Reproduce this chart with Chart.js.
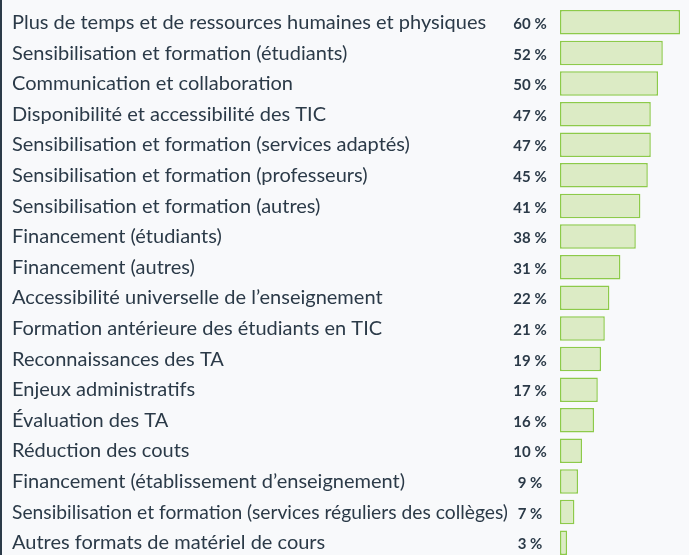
<!DOCTYPE html>
<html>
<head>
<meta charset="utf-8">
<script src="https://cdn.jsdelivr.net/npm/chart.js@4"></script>
<style>
  html, body { margin: 0; padding: 0; background: #f8f9fb; overflow: hidden; }
  #wrap { position: absolute; left: 0; top: 0; width: 689px; height: 560px; }
  #edge { position: absolute; left: 0; top: 0; width: 2px; height: 555px; background: #2b3a48; }
</style>
</head>
<body>
<div id="wrap"><canvas id="myChart" width="689" height="560"></canvas></div>
<div id="edge"></div>
<script>
// Categories, top to bottom
const categories = [
  'Plus de temps et de ressources humaines et physiques',
  'Sensibilisation et formation (étudiants)',
  'Communication et collaboration',
  'Disponibilité et accessibilité des TIC',
  'Sensibilisation et formation (services adaptés)',
  'Sensibilisation et formation (professeurs)',
  'Sensibilisation et formation (autres)',
  'Financement (étudiants)',
  'Financement (autres)',
  'Accessibilité universelle de l\u2019enseignement',
  'Formation antérieure des étudiants en TIC',
  'Reconnaissances des TA',
  'Enjeux administratifs',
  'Évaluation des TA',
  'Réduction des couts',
  'Financement (établissement d\u2019enseignement)',
  'Sensibilisation et formation (services réguliers des collèges)',
  'Autres formats de matériel de cours',
];

// Printed percentages
const valueLabels = [60, 52, 50, 47, 47, 45, 41, 38, 31, 22, 21, 19, 17, 16, 10, 9, 7, 3];

// Bar lengths (same % scale)
const barValues = [60, 51.4, 49, 45.4, 45.4, 43.9, 40.2, 37.9, 30.2, 24.7, 22.4, 20.5, 18.9, 17, 11, 9, 7.2, 3.5];

const textColor = '#2b3a48';

const labelsPlugin = {
  id: 'rowLabels',
  afterDatasetsDraw(chart) {
    const { ctx } = chart;
    const yScale = chart.scales.y;
    ctx.save();
    ctx.fillStyle = textColor;
    ctx.textBaseline = 'alphabetic';
    categories.forEach((cat, i) => {
      const y = yScale.getPixelForValue(i) + 6.6;
      ctx.font = '20px Lato';
      ctx.textAlign = 'left';
      const w = ctx.measureText(cat).width;
      const maxW = 496;
      ctx.fillText(cat, 12, y, w > maxW ? maxW : undefined);
      ctx.font = 'bold 15px Lato';
      ctx.textAlign = 'center';
      ctx.fillText(valueLabels[i] + '\u202F%', 530, y);
    });
    ctx.restore();
  }
};

new Chart(document.getElementById('myChart').getContext('2d'), {
  type: 'bar',
  data: {
    labels: categories,
    datasets: [{
      data: barValues,
      backgroundColor: '#dcebc5',
      borderColor: '#8dca4a',
      borderWidth: 1.5,
      borderSkipped: false,
      barPercentage: 0.8,
      categoryPercentage: 1.0
    }]
  },
  plugins: [labelsPlugin],
  options: {
    indexAxis: 'y',
    responsive: false,
    animation: false,
    devicePixelRatio: 1,
    layout: { padding: { left: 560, right: 9, top: 7, bottom: 2 } },
    plugins: { legend: { display: false }, tooltip: { enabled: false } },
    scales: {
      x: { display: false, min: 0, max: 60 },
      y: { display: false }
    }
  }
});
</script>
</body>
</html>
